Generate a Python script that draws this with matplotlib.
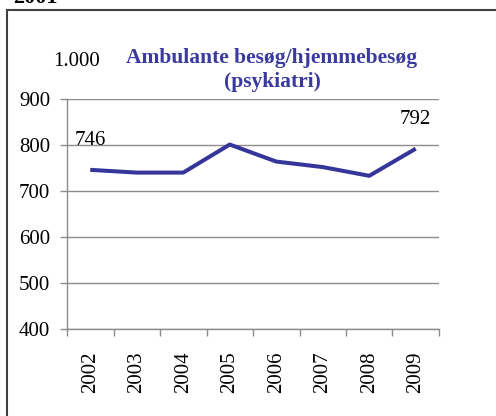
import matplotlib.pyplot as plt
from matplotlib.lines import Line2D

years = ['2002', '2003', '2004', '2005', '2006', '2007', '2008', '2009']
visits = [746, 740, 740, 801, 764, 752, 733, 792]
labelled = {0: '746', 7: '792'}
y_ticks = [400, 500, 600, 700, 800, 900]

plt.rcParams['font.family'] = ['Liberation Serif', 'DejaVu Serif']

fig = plt.figure(figsize=(4.96, 4.16), dpi=100)
ax = fig.add_axes([67 / 496, 1 - 329 / 416, 372 / 496, 230 / 416])

x = list(range(len(years)))
ax.plot(x, visits, color='#35359a', lw=2.9, solid_capstyle='butt')

for i, txt in labelled.items():
    ax.annotate(txt, (x[i], visits[i]), xytext=(0, 21), textcoords='offset points',
                ha='center', va='center', fontsize=15)

ax.set_xlim(-0.5, len(years) - 0.5)
ax.set_ylim(400, 900)
ax.set_yticks(y_ticks)
ax.set_yticklabels([str(v) for v in y_ticks], fontsize=15)
ax.yaxis.grid(True, color='#8c8c8c', lw=1)
ax.set_axisbelow(True)

ax.set_xticks(x)
ax.set_xticklabels(years, rotation=90, fontsize=15)
ax.set_xticks([i - 0.5 for i in range(len(years) + 1)], minor=True)
ax.tick_params(axis='x', which='major', length=0, pad=16)
ax.tick_params(axis='x', which='minor', length=5, color='#8c8c8c', width=1)
ax.tick_params(axis='y', length=5, color='#8c8c8c', width=1, pad=7)

for s in ['top', 'right']:
    ax.spines[s].set_visible(False)
for s in ['left', 'bottom']:
    ax.spines[s].set_color('#8c8c8c')
    ax.spines[s].set_linewidth(1)

# stray top axis label as in the original
fig.text(100 / 496, 1 - 62 / 416, '1.000', ha='right', va='center', fontsize=15)

fig.text(272 / 496, 1 - 70 / 416, 'Ambulante besøg/hjemmebesøg\n(psykiatri)',
         ha='center', va='center', fontsize=15.5, fontweight='bold',
         color='#3a3a9e', linespacing=1.2)

# cut-off heading above the frame
fig.text(13 / 496, 1 - 3 / 416, '2001', ha='left', va='baseline',
         fontsize=16, fontweight='bold')

# frame
fig.add_artist(Line2D([7 / 496, 1.01], [1 - 10 / 416, 1 - 10 / 416],
                      transform=fig.transFigure, color='#404040', lw=1.5))
fig.add_artist(Line2D([7 / 496, 7 / 496], [1 - 10 / 416, -0.01],
                      transform=fig.transFigure, color='#404040', lw=1.5))

fig.savefig('out.png', dpi=100)
